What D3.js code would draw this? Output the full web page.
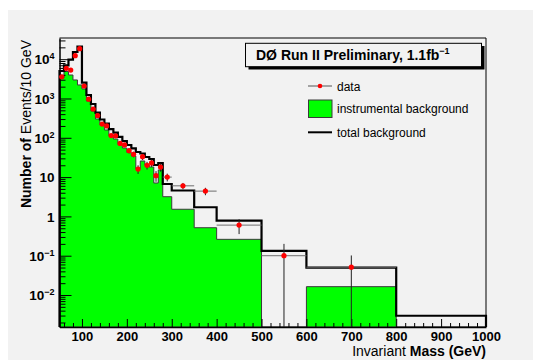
<!DOCTYPE html>
<html><head><meta charset="utf-8">
<script src="https://cdn.jsdelivr.net/npm/d3@7"></script>
<style>
body{margin:0;background:#fff}
svg{display:block;font-family:"Liberation Sans",Arial,Helvetica,sans-serif}
</style>
</head><body><svg id="c" width="533" height="360"></svg>
<script>
// ---- data (per 10 GeV) ----
const binEdges = [50,60,70,80,90,100,110,120,130,140,150,160,170,180,190,200,210,220,230,240,250,260,270,280,300,350,400,500,600,800,1000];
const dataValues = [3560,5860,5280,12300,18500,2080,960,540,369,224,200,114,112,72,66,47,38,16,33,20,23,10.9,18,10,6.0,4.4,0.60,0.10,0.051,0];
const instrumentalBkg = [3330,4870,3960,2960,2210,1750,864,481,301,212,158,111,93,67.6,55,42.3,34.4,16.1,25.7,20.3,18.1,7.08,15.2,3.17,1.52,0.515,0.261,0,0.0163,0];
const totalBkg = [5010,6920,9700,15240,21040,2520,1228,725,436,292,231,167,136,105,83,65.6,53.5,43.5,39.9,32.5,28.9,20.3,22.8,6.67,4.56,1.71,0.778,0.132,0.0495,0.00297];
const xTickValues = [100,200,300,400,500,600,700,800,900,1000];
const yTickValues = [0.01,0.1,1,10,100,1000,10000];
const yTickBase = ["10","10","1","10","10","10","10"];
const yTickExp = ["\u22122","\u22121","","","2","3","4"];
const legendLabels = ["data","instrumental background","total background"];
const titleText = "D\u00D8 Run II Preliminary, 1.1fb";

const svg = d3.select("#c");
const W = 533, H = 360;
const L = 59.5, R = 486, T = 38, B = 327;

svg.append("rect").attr("width",W).attr("height",H).attr("fill","#fff");
svg.append("rect").attr("x",8).attr("y",10).attr("width",W-8).attr("height",H-10).attr("fill","#f2f2f2");

const x = d3.scaleLinear().domain([50,1000]).range([L,R]);
const y = d3.scaleLog().domain([0.001535,34600]).range([B,T]);
const yv = v => v > 0 ? Math.min(B, y(v)) : B;

const bins = d3.range(binEdges.length-1).map(i => ({
  lo: binEdges[i], hi: binEdges[i+1],
  data: dataValues[i], inst: instrumentalBkg[i], tot: totalBkg[i]
}));

function stepPts(key){
  const pts = [[x(binEdges[0]), B]];
  bins.forEach(b => { const yy = yv(b[key]); pts.push([x(b.lo), yy]); pts.push([x(b.hi), yy]); });
  pts.push([x(binEdges[binEdges.length-1]), B]);
  return pts;
}
const line = d3.line();
svg.append("path").attr("d", line(stepPts("inst")) + "Z")
  .attr("fill","#00ff00").attr("stroke","#3a3a3a").attr("stroke-width",1);

svg.append("path").attr("d", line(stepPts("tot")))
  .attr("fill","none").attr("stroke","#000").attr("stroke-width",2.2).attr("stroke-linejoin","miter");

// axes
const gx = svg.append("g").attr("transform",`translate(0,${B})`);
const minorX = d3.range(60,1000,20).filter(v => v % 100 !== 0);
gx.call(d3.axisBottom(x).tickValues(minorX).tickSize(-4).tickSizeOuter(0).tickFormat(""));
gx.call(g => g.selectAll(".domain").remove());
const gx2 = svg.append("g").attr("transform",`translate(0,${B})`);
gx2.call(d3.axisBottom(x).tickValues(xTickValues).tickSize(-8).tickSizeOuter(0).tickPadding(5).tickFormat(d3.format("d")));
gx2.selectAll("text").attr("font-size",13).attr("font-weight","bold").attr("fill","#000").attr("font-family","'Liberation Sans',Arial,sans-serif");
gx2.select(".domain").attr("stroke","#000").attr("stroke-width",1.5);
gx.selectAll("line").attr("stroke","#000");
gx2.selectAll("line").attr("stroke","#000");

const minorY = [];
for (let e=-3; e<=4; e++) for (let m=2; m<=9; m++) { const v = m*Math.pow(10,e); if (v>=0.001535 && v<=34600) minorY.push(v); }
const gy = svg.append("g").attr("transform",`translate(${L},0)`);
gy.call(d3.axisLeft(y).tickValues(minorY).tickSize(-6).tickSizeOuter(0).tickFormat(""));
gy.selectAll("line").attr("stroke","#000");
gy.select(".domain").remove();
const gy2 = svg.append("g").attr("transform",`translate(${L},0)`);
gy2.call(d3.axisLeft(y).tickValues(yTickValues).tickSize(-12).tickSizeOuter(0).tickPadding(5).tickFormat(""));
gy2.selectAll("line").attr("stroke","#000");
gy2.select(".domain").attr("stroke","#000").attr("stroke-width",1.5);
gy2.selectAll(".tick").each(function(d,i){
  const t = d3.select(this).select("text").attr("font-size",13.5).attr("font-weight","bold").attr("fill","#000").attr("dy","0.35em").attr("x",-5);
  t.append("tspan").text(yTickBase[i]);
  if (yTickExp[i]) t.append("tspan").attr("font-size",9).attr("dy","-0.55em").text(yTickExp[i]);
});

svg.append("line").attr("x1",L).attr("x2",R).attr("y1",T).attr("y2",T).attr("stroke","#000").attr("stroke-width",1);
svg.append("line").attr("x1",R).attr("x2",R).attr("y1",T).attr("y2",B).attr("stroke","#000").attr("stroke-width",1);

// data points
const pts = bins.filter(b => b.data > 0);
const gd = svg.append("g");
pts.forEach(b => {
  const n = b.data*(b.hi-b.lo)/10, err = Math.sqrt(n)*10/(b.hi-b.lo);
  const cx = x((b.lo+b.hi)/2), cy = y(b.data);
  gd.append("line").attr("x1",x(b.lo)).attr("x2",x(b.hi)).attr("y1",cy).attr("y2",cy).attr("stroke","#6e6e6e").attr("stroke-width",1);
  gd.append("line").attr("x1",cx).attr("x2",cx).attr("y1",yv(b.data+err)).attr("y2",yv(b.data-err)).attr("stroke","#222").attr("stroke-width",1);
});
gd.selectAll("circle").data(pts).join("circle")
  .attr("cx",b => x((b.lo+b.hi)/2)).attr("cy",b => y(b.data)).attr("r",2.6).attr("fill","#ff0000");

// title box
svg.append("rect").attr("x",248.5).attr("y",46).attr("width",236).attr("height",23.5).attr("fill","#000");
svg.append("rect").attr("x",245.5).attr("y",43.3).attr("width",236).attr("height",23.4).attr("fill","#f2f2f2").attr("stroke","#000").attr("stroke-width",1);
const tt = svg.append("text").attr("x",256).attr("y",60).attr("font-size",14).attr("font-weight","bold").attr("fill","#000");
tt.append("tspan").text(titleText);
tt.append("tspan").attr("font-size",9).attr("dy",-6).text("\u22121");

// legend
const lg = svg.append("g");
lg.append("line").attr("x1",308).attr("x2",332).attr("y1",86).attr("y2",86).attr("stroke","#6e6e6e").attr("stroke-width",1.2);
lg.append("circle").attr("cx",320).attr("cy",86).attr("r",2.3).attr("fill","#ff0000");
lg.append("rect").attr("x",308.5).attr("y",100).attr("width",23.5).attr("height",17.5).attr("fill","#00ff00").attr("stroke","#3a3a3a");
lg.append("line").attr("x1",308).attr("x2",332).attr("y1",132.3).attr("y2",132.3).attr("stroke","#000").attr("stroke-width",2);
[90.5,112.5,136.5].forEach((yy,i) => lg.append("text").attr("x",337).attr("y",yy).attr("font-size",12).attr("fill","#000").text(legendLabels[i]));

// axis titles
const xt = svg.append("text").attr("x",R).attr("y",356).attr("text-anchor","end").attr("font-size",14).attr("fill","#000");
xt.append("tspan").text("Invariant ");
xt.append("tspan").attr("font-weight","bold").text("Mass (GeV)");
const yt = svg.append("text").attr("transform","translate(31,40) rotate(-90)").attr("text-anchor","end").attr("font-size",14).attr("fill","#000");
yt.append("tspan").attr("font-weight","bold").text("Number of ");
yt.append("tspan").text("Events/10 GeV");
</script>
</body></html>
